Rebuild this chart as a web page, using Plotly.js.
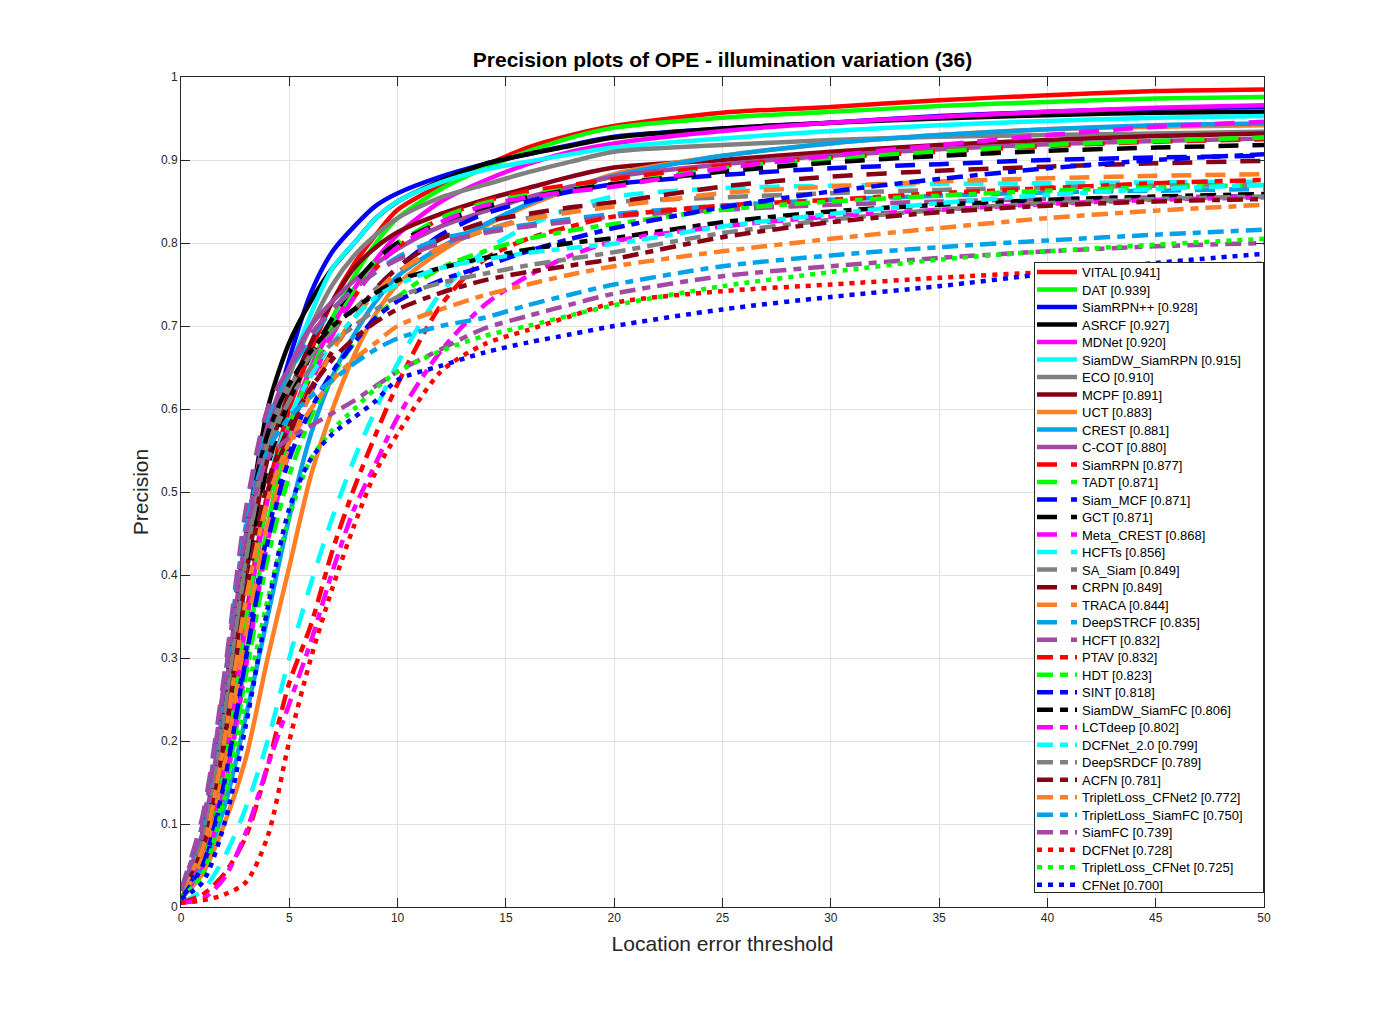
<!DOCTYPE html>
<html>
<head>
<meta charset="utf-8">
<script src="https://cdn.plot.ly/plotly-3.0.1.min.js"></script>
<style>html,body{margin:0;padding:0;background:#fff;}#chart{width:1398px;height:1018px;}</style>
</head>
<body>
<div id="chart"></div>
<script>
// Location error thresholds (x)
const thresholds = [0,1,2,3,4,5,6,7,8,9,10,12,14,16,18,20,25,30,35,40,45,50];

// Tracker names and precision scores at threshold 20 (legend values)
const trackerNames = ["VITAL","DAT","SiamRPN++","ASRCF","MDNet","SiamDW_SiamRPN","ECO","MCPF","UCT","CREST","C-COT",
  "SiamRPN","TADT","Siam_MCF","GCT","Meta_CREST","HCFTs","SA_Siam","CRPN","TRACA","DeepSTRCF","HCFT",
  "PTAV","HDT","SINT","SiamDW_SiamFC","LCTdeep","DCFNet_2.0","DeepSRDCF","ACFN","TripletLoss_CFNet2","TripletLoss_SiamFC","SiamFC",
  "DCFNet","TripletLoss_CFNet","CFNet"];
const trackerScores = [0.941,0.939,0.928,0.927,0.920,0.915,0.910,0.891,0.883,0.881,0.880,
  0.877,0.871,0.871,0.871,0.868,0.856,0.849,0.849,0.844,0.835,0.832,
  0.832,0.823,0.818,0.806,0.802,0.799,0.789,0.781,0.772,0.750,0.739,
  0.728,0.725,0.700];

// Precision curves
const VITAL          = [0.02,0.06,0.17,0.35,0.50,0.60,0.67,0.73,0.775,0.81,0.84,0.87,0.893,0.915,0.93,0.941,0.957,0.964,0.972,0.978,0.983,0.985];
const DAT            = [0.02,0.05,0.14,0.30,0.46,0.57,0.65,0.71,0.76,0.80,0.83,0.865,0.89,0.91,0.927,0.939,0.951,0.958,0.965,0.970,0.974,0.976];
const SiamRPNpp      = [0.02,0.07,0.20,0.40,0.56,0.66,0.74,0.79,0.82,0.845,0.86,0.88,0.895,0.907,0.918,0.928,0.938,0.945,0.953,0.958,0.962,0.964];
const ASRCF          = [0.02,0.08,0.23,0.44,0.60,0.68,0.73,0.77,0.80,0.83,0.85,0.875,0.895,0.907,0.917,0.927,0.938,0.945,0.950,0.954,0.957,0.958];
const MDNet          = [0.02,0.06,0.17,0.34,0.49,0.58,0.65,0.70,0.745,0.78,0.81,0.85,0.875,0.895,0.91,0.92,0.935,0.945,0.952,0.958,0.963,0.966];
const SiamDW_SiamRPN = [0.02,0.07,0.20,0.40,0.55,0.645,0.715,0.77,0.80,0.83,0.85,0.873,0.888,0.898,0.907,0.915,0.926,0.935,0.942,0.947,0.951,0.953];
const ECO            = [0.02,0.08,0.22,0.42,0.56,0.64,0.70,0.75,0.785,0.81,0.83,0.855,0.87,0.885,0.898,0.91,0.918,0.924,0.928,0.93,0.932,0.934];
const MCPF           = [0.02,0.07,0.20,0.40,0.54,0.62,0.68,0.73,0.77,0.795,0.813,0.835,0.852,0.866,0.88,0.891,0.90,0.91,0.918,0.924,0.929,0.932];
const UCT            = [0.01,0.04,0.10,0.18,0.30,0.41,0.52,0.60,0.665,0.715,0.75,0.79,0.82,0.845,0.865,0.883,0.905,0.92,0.93,0.937,0.94,0.942];
const CREST          = [0.01,0.05,0.12,0.23,0.35,0.47,0.57,0.64,0.69,0.73,0.76,0.795,0.822,0.847,0.866,0.881,0.905,0.92,0.93,0.937,0.942,0.944];
const C_COT          = [0.02,0.09,0.25,0.45,0.58,0.65,0.70,0.73,0.755,0.775,0.793,0.82,0.838,0.855,0.868,0.88,0.895,0.905,0.913,0.919,0.923,0.926];
const SiamRPN        = [0.02,0.06,0.18,0.36,0.50,0.58,0.64,0.69,0.735,0.77,0.795,0.83,0.85,0.862,0.87,0.877,0.893,0.903,0.91,0.917,0.922,0.925];
const TADT           = [0.02,0.06,0.17,0.35,0.49,0.58,0.645,0.70,0.745,0.78,0.80,0.83,0.848,0.858,0.865,0.871,0.89,0.902,0.91,0.918,0.923,0.927];
const Siam_MCF       = [0.02,0.05,0.15,0.31,0.45,0.55,0.62,0.67,0.71,0.745,0.77,0.81,0.835,0.85,0.862,0.871,0.882,0.89,0.895,0.90,0.903,0.905];
const GCT            = [0.02,0.07,0.20,0.39,0.53,0.61,0.665,0.71,0.75,0.78,0.80,0.825,0.843,0.855,0.864,0.871,0.886,0.897,0.905,0.911,0.915,0.918];
const Meta_CREST     = [0.01,0.05,0.14,0.29,0.44,0.55,0.63,0.69,0.735,0.77,0.795,0.825,0.845,0.855,0.862,0.868,0.89,0.905,0.918,0.93,0.94,0.946];
const HCFTs          = [0.005,0.02,0.06,0.12,0.20,0.30,0.39,0.47,0.54,0.60,0.655,0.74,0.79,0.82,0.842,0.856,0.866,0.869,0.871,0.872,0.873,0.874];
const SA_Siam        = [0.02,0.08,0.22,0.42,0.56,0.625,0.665,0.695,0.72,0.745,0.765,0.795,0.815,0.83,0.84,0.849,0.855,0.86,0.864,0.867,0.869,0.87];
const CRPN           = [0.02,0.07,0.20,0.38,0.50,0.57,0.625,0.67,0.71,0.745,0.77,0.805,0.825,0.835,0.843,0.849,0.868,0.88,0.887,0.892,0.896,0.899];
const TRACA          = [0.01,0.06,0.17,0.33,0.46,0.55,0.62,0.67,0.71,0.74,0.765,0.795,0.815,0.828,0.837,0.844,0.86,0.868,0.874,0.878,0.881,0.883];
const DeepSTRCF      = [0.02,0.10,0.27,0.47,0.59,0.645,0.685,0.72,0.745,0.765,0.783,0.805,0.815,0.822,0.829,0.835,0.845,0.852,0.857,0.861,0.863,0.865];
const HCFT           = [0.02,0.11,0.28,0.48,0.60,0.65,0.69,0.72,0.745,0.765,0.78,0.80,0.812,0.82,0.826,0.832,0.84,0.846,0.85,0.853,0.855,0.857];
const PTAV           = [0.005,0.015,0.04,0.085,0.17,0.27,0.34,0.43,0.505,0.57,0.63,0.725,0.78,0.805,0.82,0.832,0.845,0.852,0.86,0.866,0.872,0.876];
const HDT            = [0.01,0.05,0.14,0.28,0.42,0.52,0.59,0.64,0.68,0.71,0.735,0.77,0.79,0.805,0.815,0.823,0.84,0.85,0.857,0.863,0.867,0.87];
const SINT           = [0.01,0.05,0.15,0.30,0.44,0.54,0.60,0.645,0.68,0.71,0.73,0.755,0.772,0.79,0.805,0.818,0.843,0.862,0.877,0.89,0.90,0.907];
const SiamDW_SiamFC  = [0.02,0.09,0.25,0.45,0.57,0.63,0.67,0.70,0.72,0.74,0.755,0.77,0.782,0.792,0.80,0.806,0.825,0.838,0.846,0.852,0.856,0.859];
const LCTdeep        = [0.005,0.01,0.035,0.09,0.17,0.245,0.32,0.405,0.48,0.535,0.59,0.67,0.725,0.76,0.785,0.802,0.82,0.832,0.84,0.847,0.852,0.855];
const DCFNet_2_0     = [0.02,0.07,0.20,0.38,0.51,0.59,0.64,0.68,0.71,0.735,0.75,0.77,0.78,0.788,0.794,0.799,0.82,0.835,0.848,0.858,0.865,0.87];
const DeepSRDCF      = [0.02,0.08,0.23,0.42,0.55,0.61,0.65,0.68,0.70,0.72,0.735,0.752,0.763,0.773,0.781,0.789,0.812,0.828,0.84,0.848,0.853,0.856];
const ACFN           = [0.02,0.07,0.20,0.38,0.51,0.58,0.625,0.66,0.685,0.705,0.72,0.74,0.755,0.765,0.773,0.781,0.807,0.825,0.837,0.845,0.85,0.853];
const TripletLoss_CFNet2 = [0.02,0.07,0.20,0.37,0.49,0.56,0.60,0.635,0.66,0.68,0.70,0.72,0.737,0.75,0.762,0.772,0.79,0.805,0.818,0.83,0.839,0.846];
const TripletLoss_SiamFC = [0.02,0.10,0.27,0.46,0.55,0.59,0.615,0.635,0.655,0.672,0.685,0.70,0.71,0.725,0.738,0.75,0.772,0.785,0.795,0.803,0.81,0.816];
const SiamFC         = [0.02,0.10,0.27,0.45,0.54,0.565,0.58,0.595,0.61,0.628,0.645,0.672,0.697,0.712,0.726,0.739,0.76,0.772,0.782,0.79,0.796,0.80];
const DCFNet         = [0.005,0.008,0.015,0.03,0.085,0.20,0.30,0.385,0.46,0.525,0.57,0.645,0.678,0.695,0.712,0.728,0.742,0.75,0.758,0.765,0.77,0.775];
const TripletLoss_CFNet = [0.01,0.04,0.13,0.25,0.37,0.47,0.54,0.575,0.60,0.625,0.645,0.67,0.688,0.70,0.713,0.725,0.748,0.765,0.78,0.79,0.798,0.805];
const CFNet          = [0.01,0.03,0.10,0.22,0.36,0.48,0.54,0.57,0.59,0.61,0.635,0.652,0.668,0.68,0.69,0.70,0.72,0.735,0.748,0.763,0.776,0.787];

const curves = [VITAL,DAT,SiamRPNpp,ASRCF,MDNet,SiamDW_SiamRPN,ECO,MCPF,UCT,CREST,C_COT,
  SiamRPN,TADT,Siam_MCF,GCT,Meta_CREST,HCFTs,SA_Siam,CRPN,TRACA,DeepSTRCF,HCFT,
  PTAV,HDT,SINT,SiamDW_SiamFC,LCTdeep,DCFNet_2_0,DeepSRDCF,ACFN,TripletLoss_CFNet2,TripletLoss_SiamFC,SiamFC,
  DCFNet,TripletLoss_CFNet,CFNet];

// Styles
const palette = ['#FF0000','#00FF00','#0000FF','#000000','#FF00FF','#00FFFF','#808080','#880015','#FF7F27','#00A2E8','#A349A4'];
const dashes = ['solid','20px,14px','16px,7px,8px,7px','5px,6px'];

const FONT = 'Liberation Sans, Arial, Helvetica, sans-serif';

const traces = curves.map((ys, i) => ({
  type: 'scatter',
  mode: 'lines',
  x: thresholds,
  y: ys,
  name: trackerNames[i] + ' [' + trackerScores[i].toFixed(3) + ']',
  line: {
    color: palette[i % 11],
    width: 4.5,
    dash: dashes[Math.min(Math.floor(i / 11), 3)],
    shape: 'spline',
    smoothing: 0.8
  },
  hoverinfo: 'skip'
}));

const axisCommon = {
  showline: true,
  linecolor: '#262626',
  linewidth: 1,
  mirror: 'ticks',
  ticks: 'inside',
  ticklen: 9,
  tickwidth: 1,
  tickcolor: '#262626',
  showgrid: true,
  gridcolor: '#e1e1e1',
  gridwidth: 1,
  zeroline: false,
  tickfont: {family: FONT, size: 12, color: '#262626'}
};

const layout = {
  width: 1398,
  height: 1018,
  margin: {l: 181, r: 134, t: 77, b: 111},
  paper_bgcolor: '#ffffff',
  plot_bgcolor: '#ffffff',
  font: {family: FONT, color: '#262626'},
  showlegend: true,
  title: {
    text: '<b>Precision plots of OPE - illumination variation (36)</b>',
    font: {family: FONT, size: 21, color: '#000000'},
    x: 0.5, xref: 'paper', xanchor: 'center',
    y: 1 - 60 / 1018, yref: 'container', yanchor: 'middle'
  },
  xaxis: Object.assign({}, axisCommon, {
    range: [0, 50],
    tickvals: [0,5,10,15,20,25,30,35,40,45,50],
    title: {text: 'Location error threshold', font: {family: FONT, size: 21, color: '#262626'}, standoff: 11}
  }),
  yaxis: Object.assign({}, axisCommon, {
    range: [0, 1],
    tickvals: [0,0.1,0.2,0.3,0.4,0.5,0.6,0.7,0.8,0.9,1],
    ticktext: ['0','0.1','0.2','0.3','0.4','0.5','0.6','0.7','0.8','0.9','1'],
    title: {text: 'Precision', font: {family: FONT, size: 21, color: '#262626'}, standoff: 6}
  }),
  legend: {
    x: 1, xanchor: 'right', xref: 'paper',
    y: 14 / 830, yanchor: 'bottom', yref: 'paper',
    bgcolor: '#ffffff',
    bordercolor: '#262626',
    borderwidth: 1,
    font: {family: FONT, size: 13, color: '#000000'},
    tracegroupgap: 0,
    itemwidth: 40,
    traceorder: 'normal'
  }
};

Plotly.newPlot('chart', traces, layout, {displayModeBar: false, staticPlot: true}).then(function (gd) {
  // Tighten the legend rows to the compact spacing of the reference figure
  const leg = gd.querySelector('g.legend');
  if (!leg) return;
  const bg = leg.querySelector('rect.bg');
  const items = leg.querySelectorAll('g.traces');
  if (!items.length) return;
  const m = /translate\(\s*([-\d.e]+)[\s,]+([-\d.e]+)\s*\)/.exec(items[0].getAttribute('transform') || '');
  const x0 = m ? parseFloat(m[1]) : 1;
  const y0 = m ? parseFloat(m[2]) : 10;
  const step = 17.51;
  items.forEach(function (it, i) {
    it.setAttribute('transform', 'translate(' + (x0 - 3) + ',' + (y0 - 6 + i * step) + ')');
  });
  const left = 1034, top = 262, w = 230, h = 631;
  leg.setAttribute('transform', 'translate(' + left + ',' + top + ')');
  if (bg) {
    bg.setAttribute('width', w - 1);
    bg.setAttribute('height', h - 1);
  }
});
</script>
</body>
</html>
